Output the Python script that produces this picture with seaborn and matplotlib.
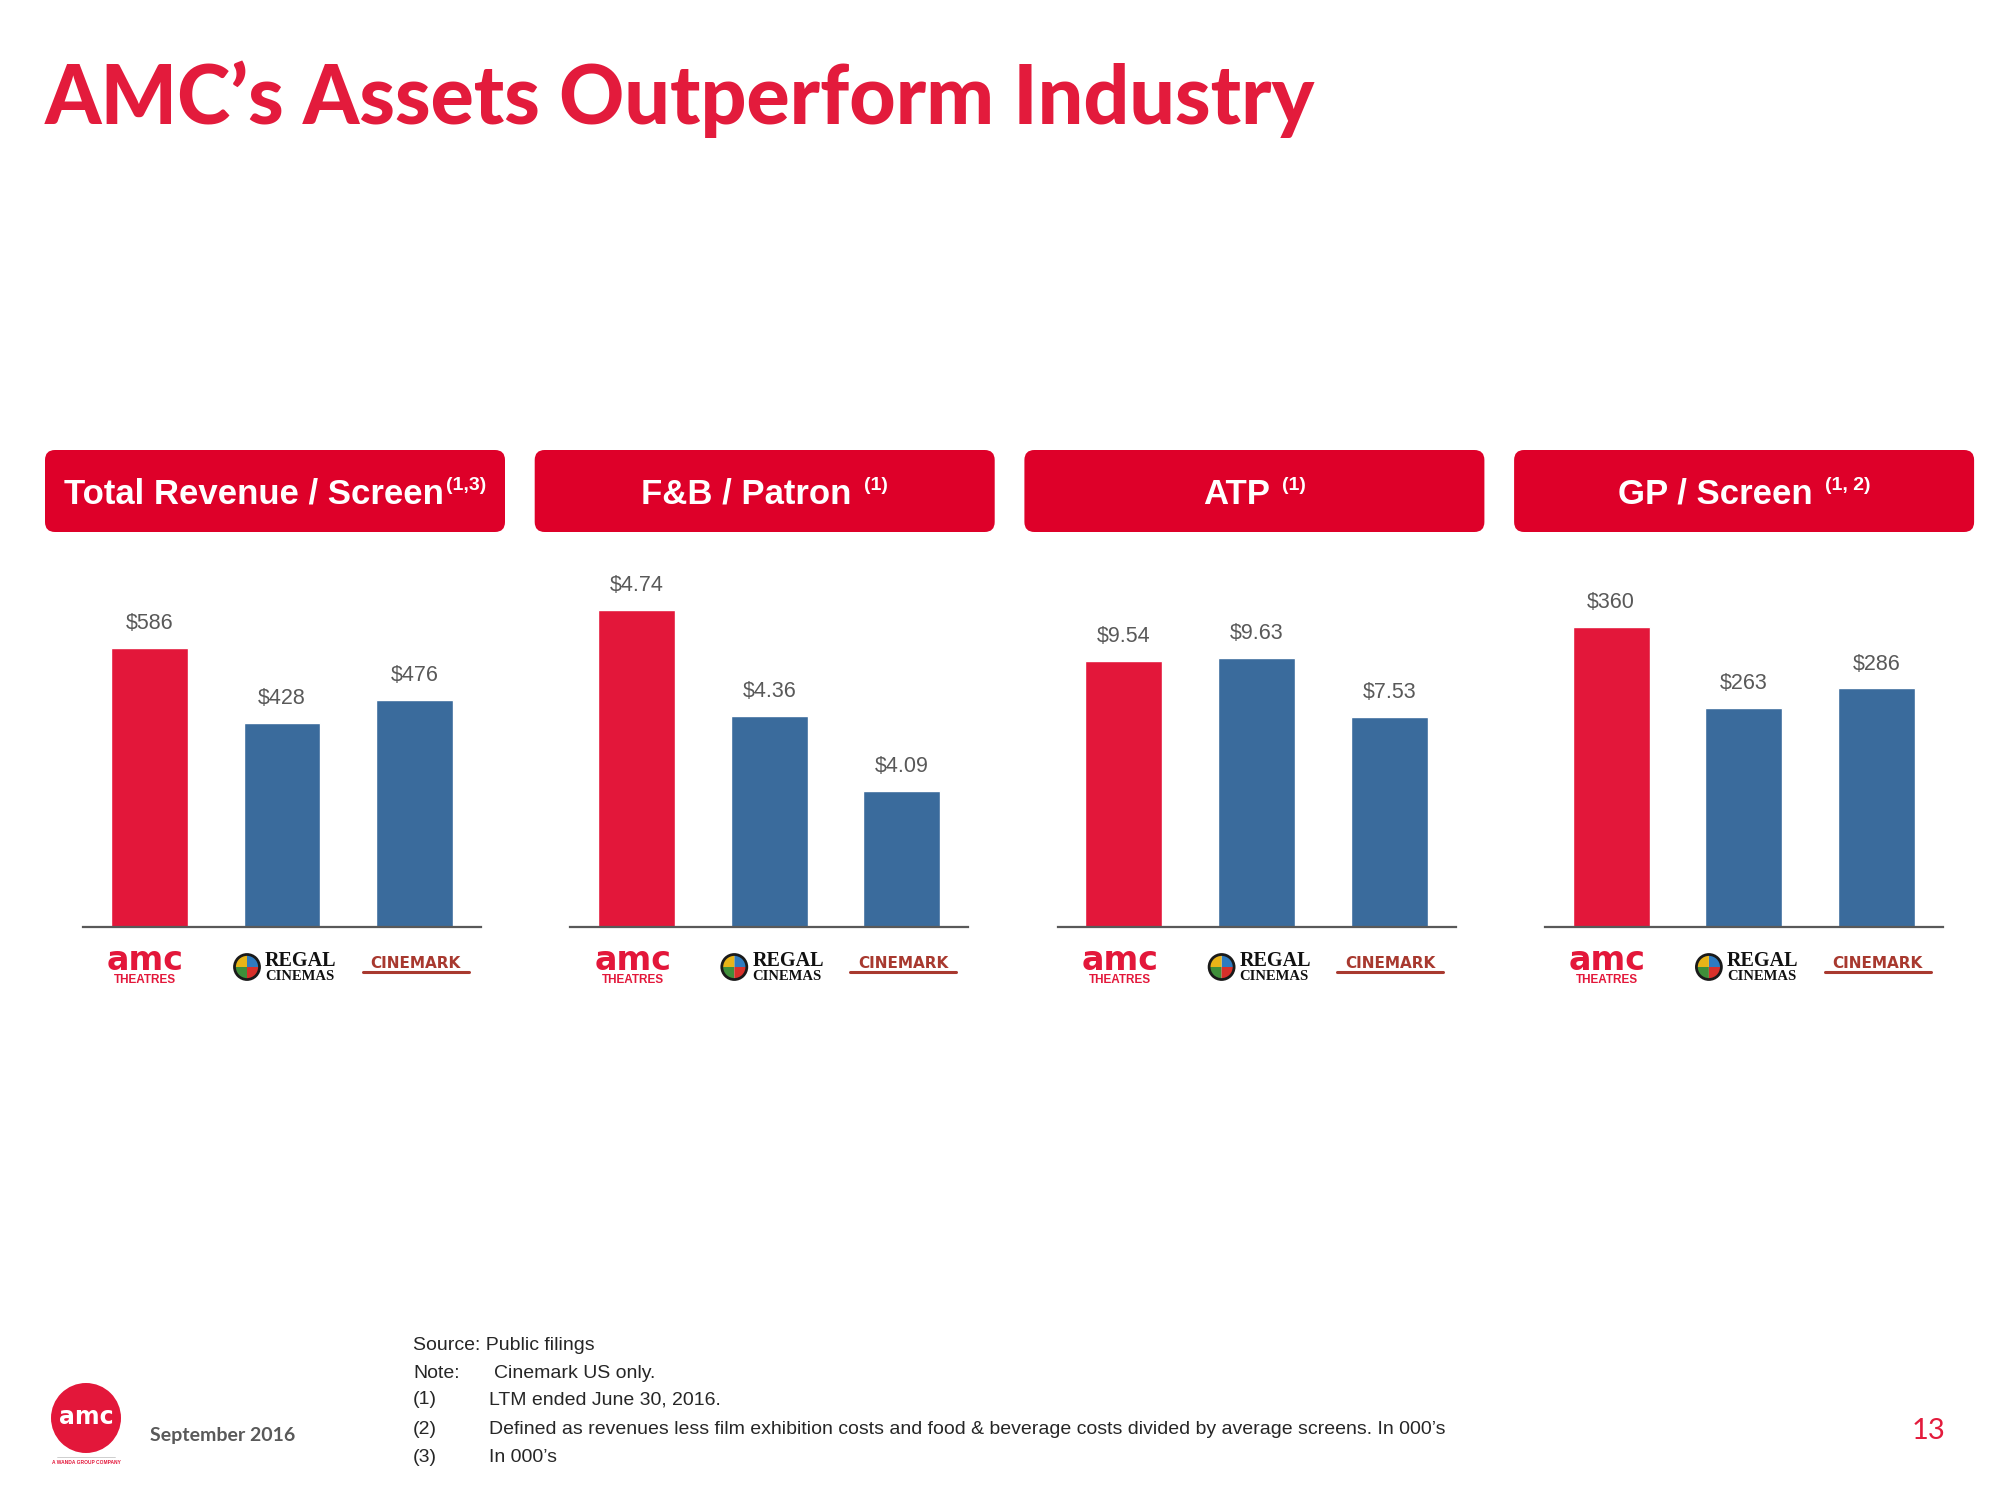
import matplotlib

matplotlib.use("Agg")
import matplotlib.pyplot as plt
import matplotlib.transforms as mtransforms
import pandas as pd
import seaborn as sns
from matplotlib.lines import Line2D
from matplotlib.offsetbox import AnnotationBbox, HPacker, TextArea
from matplotlib.patches import Circle, FancyBboxPatch, Wedge

sns.set_style("white")
plt.rcParams["font.family"] = ["Liberation Sans", "DejaVu Sans"]

# ---- data -------------------------------------------------------------
companies = ["AMC", "Regal", "Cinemark"]
revenue_per_screen = [586, 428, 476]
fb_per_patron = [4.74, 4.36, 4.09]
atp = [9.54, 9.63, 7.53]
gp_per_screen = [360, 263, 286]

panel_titles = ["Total Revenue / Screen", "F&B / Patron", "ATP", "GP / Screen"]
panel_notes = ["(1,3)", "(1)", "(1)", "(1, 2)"]
value_formats = ["${:.0f}", "${:.2f}", "${:.2f}", "${:.0f}"]
y_limits = [(0, 770), (3.6, 4.92), (0, 13.15), (0, 440)]

footnote_keys = ["Source: Public filings", "Note:", "(1)", "(2)", "(3)"]
footnote_texts = [
    "",
    "Cinemark US only.",
    "LTM ended June 30, 2016.",
    "Defined as revenues less film exhibition costs and food & beverage costs "
    "divided by average screens. In 000\u2019s",
    "In 000\u2019s",
]

# ---- style ------------------------------------------------------------
W, H, DPI = 2000, 1500, 100
RED = "#E3173A"
BLUE = "#3A6B9C"
BOX_RED = "#DE0029"
TITLE_RED = "#E31B3C"
GRAY = "#595959"
CINEMARK_RED = "#A8392F"


def px_offset(ax, dx, dy):
    return mtransforms.offset_copy(ax.get_xaxis_transform(), fig=ax.figure,
                                   x=dx, y=dy, units="dots")


def draw_logos(fig, ax):
    # AMC
    ax.text(0, 0, "amc", transform=px_offset(ax, -4, -33), ha="center",
            va="center", fontsize=24, fontweight="bold", color=RED,
            family="DejaVu Sans")
    ax.text(0, 0, "THEATRES", transform=px_offset(ax, -4, -53),
            ha="center", va="center", fontsize=8.5, fontweight="bold",
            color=RED)
    # Regal
    cx, cy = ax.get_xaxis_transform().transform((1, 0))
    cx, cy = (cx - 35) / DPI, (cy - 40) / DPI
    for t1, col in zip([0, 90, 180, 270],
                       ["#2E7BC0", "#E8B418", "#3F8F3A", "#D8302A"]):
        fig.add_artist(Wedge((cx, cy), 0.12, t1, t1 + 90, fc=col, ec="none",
                             transform=fig.dpi_scale_trans))
    fig.add_artist(Circle((cx, cy), 0.125, fc="none", ec="#1a1a1a", lw=2,
                          transform=fig.dpi_scale_trans))
    ax.text(1, 0, "REGAL", transform=px_offset(ax, -17, -34), ha="left",
            va="center", fontsize=14.5, fontweight="bold", color="#111111",
            family="Liberation Serif")
    ax.text(1, 0, "CINEMAS", transform=px_offset(ax, -17, -50), ha="left",
            va="center", fontsize=10.5, fontweight="bold", color="#111111",
            family="Liberation Serif")
    # Cinemark
    ax.text(2, 0, "CINEMARK", transform=px_offset(ax, 1, -36), ha="center",
            va="center", fontsize=11, fontweight="bold", color=CINEMARK_RED,
            family="DejaVu Sans")
    lx, ly = ax.get_xaxis_transform().transform((2, 0))
    fig.add_artist(Line2D([(lx - 52) / DPI, (lx + 54) / DPI],
                          [(ly - 45) / DPI, (ly - 45) / DPI],
                          color=CINEMARK_RED, lw=2.2,
                          transform=fig.dpi_scale_trans))


def draw_panel(fig, k, values):
    left = 83 + 487.3 * k
    ax = fig.add_axes([left / W, 1 - 927 / H, 398 / W, 367 / H])
    df = pd.DataFrame({"company": companies, "value": values})
    sns.barplot(data=df, x="company", y="value", hue="company",
                palette=[RED, BLUE, BLUE], width=0.58, saturation=1,
                legend=False, ax=ax)
    ax.set_xlim(-0.5, 2.5)
    ax.set_ylim(*y_limits[k])
    ax.set_xticks([])
    ax.set_yticks([])
    ax.set_xlabel("")
    ax.set_ylabel("")
    for side in ["top", "right", "left"]:
        ax.spines[side].set_visible(False)
    ax.spines["bottom"].set_color(GRAY)
    ax.spines["bottom"].set_linewidth(1.6)
    for cont in ax.containers:
        ax.bar_label(cont, labels=[value_formats[k].format(v)
                                   for v in cont.datavalues],
                     padding=10, fontsize=15.5, color=GRAY)
    draw_logos(fig, ax)

    # header box
    bx = (45 + 489.7 * k) / DPI
    fig.add_artist(FancyBboxPatch((bx, (H - 532) / DPI), 4.60, 0.82,
                                  boxstyle="round,pad=0,rounding_size=0.1",
                                  fc=BOX_RED, ec="none",
                                  transform=fig.dpi_scale_trans))
    main = TextArea(panel_titles[k], textprops=dict(
        color="white", fontsize=25, fontweight="bold"))
    note = TextArea(panel_notes[k], textprops=dict(
        color="white", fontsize=14, fontweight="bold"))
    pack = HPacker(children=[main, note], align="top", pad=0,
                   sep=2 if k == 0 else 9)
    ab = AnnotationBbox(pack, (bx + 2.30, (H - 494) / DPI),
                        xycoords=fig.dpi_scale_trans, frameon=False,
                        box_alignment=(0.5, 0.5), pad=0)
    fig.add_artist(ab)


fig = plt.figure(figsize=(W / DPI, H / DPI), dpi=DPI)

fig.text(45 / W, 1 - 124 / H, "AMC\u2019s Assets Outperform Industry",
         fontsize=58, fontweight="black", color=TITLE_RED, va="baseline",
         family=["Lato", "DejaVu Sans"])

for k, vals in enumerate([revenue_per_screen, fb_per_patron, atp,
                          gp_per_screen]):
    draw_panel(fig, k, vals)

# footnotes
foot_y = [1346, 1373, 1400, 1429, 1457]
for key, txt, y in zip(footnote_keys, footnote_texts, foot_y):
    fig.text(413 / W, 1 - y / H, key, fontsize=14, color="#262626",
             va="center")
    if txt:
        x2 = 494 if key == "Note:" else 489
        fig.text(x2 / W, 1 - y / H, txt, fontsize=14, color="#262626",
                 va="center")

# bottom-left brand block
fig.add_artist(Circle((0.86, 0.82), 0.35, fc=RED, ec="none",
                      transform=fig.dpi_scale_trans))
fig.text(0.86, 0.83, "amc", transform=fig.dpi_scale_trans, ha="center",
         va="center", fontsize=17, fontweight="bold", color="white",
         family="DejaVu Sans")
fig.add_artist(Line2D([0.57, 1.15], [0.43, 0.43], color="#bbbbbb", lw=0.5,
                      transform=fig.dpi_scale_trans))
fig.text(0.86, 0.38, "A WANDA GROUP COMPANY", transform=fig.dpi_scale_trans,
         ha="center", va="center", fontsize=3.5, fontweight="bold", color=RED)
fig.text(150 / W, 1 - 1436 / H, "September 2016", fontsize=14,
         fontweight="bold", color=GRAY, va="center",
         family=["Lato", "DejaVu Sans"])
fig.text(1928 / W, 1 - 1431 / H, "13", fontsize=21, color=TITLE_RED,
         ha="center", va="center", family=["Lato", "DejaVu Sans"])

fig.savefig("out.png", dpi=DPI, facecolor="white")
